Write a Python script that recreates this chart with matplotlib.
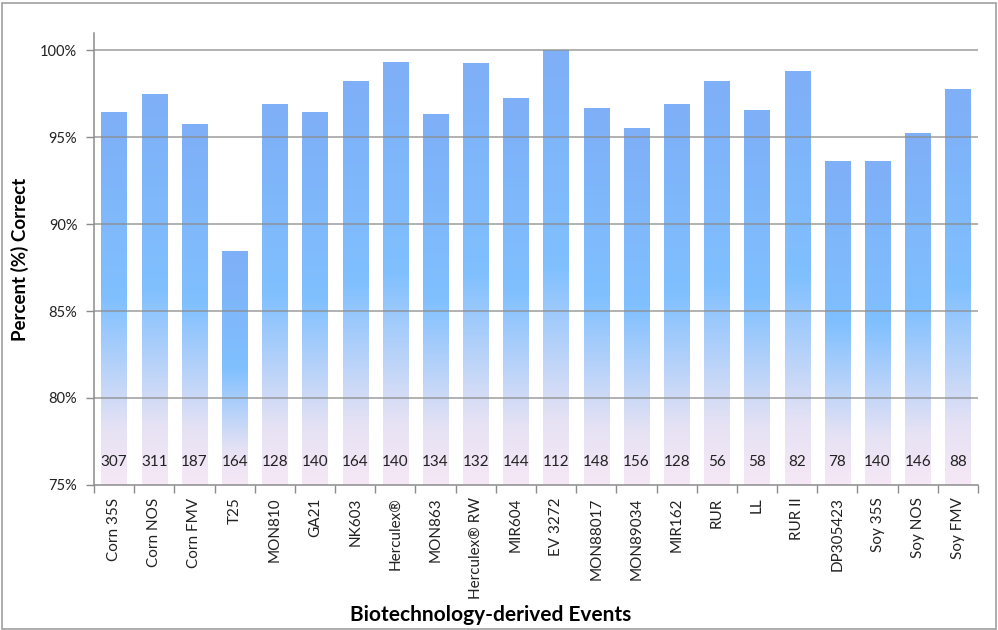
import matplotlib
matplotlib.use("Agg")
import matplotlib.pyplot as plt
import numpy as np
from matplotlib.colors import LinearSegmentedColormap
from matplotlib.patches import Rectangle

plt.rcParams["font.family"] = ["Lato", "DejaVu Sans"]

events = [
    "Corn 35S", "Corn NOS", "Corn FMV", "T25", "MON810", "GA21", "NK603",
    "Herculex\u00ae", "MON863", "Herculex\u00ae RW", "MIR604", "EV 3272",
    "MON88017", "MON89034", "MIR162", "RUR", "LL", "RUR II", "DP305423",
    "Soy 35S", "Soy NOS", "Soy FMV",
]
percent_correct = [
    96.42, 97.43, 95.72, 88.41, 96.88, 96.43, 98.17, 99.29, 96.27, 99.24,
    97.22, 100.0, 96.62, 95.51, 96.88, 98.21, 96.55, 98.78, 93.59, 93.57,
    95.21, 97.73,
]
sample_counts = [
    307, 311, 187, 164, 128, 140, 164, 140, 134, 132, 144, 112, 148, 156,
    128, 56, 58, 82, 78, 140, 146, 88,
]
y_ticks = [75, 80, 85, 90, 95, 100]

BAR_WIDTH = 0.63
Y_MIN = 75
Y_TOP = 100.98
GRID_COLOR = "#8c8c8c"

# bottom -> middle -> top of each bar, like the spreadsheet gradient fill
bar_cmap = LinearSegmentedColormap.from_list(
    "bar_fill", [(0.0, "#f6e8f6"), (0.15, "#e6e2f4"), (0.5, "#80c0ff"),
                 (1.0, "#7eaff7")]
)
gradient = np.linspace(0, 1, 256).reshape(-1, 1)

fig = plt.figure(figsize=(9.98, 6.30), dpi=100)
fig.patches.append(
    Rectangle((0.002, 0.002), 0.996, 0.994, transform=fig.transFigure,
              fill=False, edgecolor="#a0a0a0", linewidth=1.2)
)
ax = fig.add_axes([0.0942, 0.2302, 0.8858, 0.7174])

x = np.arange(len(events))
for xi, value, n in zip(x, percent_correct, sample_counts):
    left = xi - BAR_WIDTH / 2
    ax.imshow(gradient, cmap=bar_cmap, origin="lower", aspect="auto",
              extent=(left, left + BAR_WIDTH, Y_MIN, value), zorder=2)
    ax.text(xi, 76.3, str(n), ha="center", va="center", fontsize=11,
            color="#222222", zorder=4)

for yv in y_ticks[1:]:
    ax.axhline(yv, color=GRID_COLOR, linewidth=1.1, zorder=2.5, alpha=0.85)

ax.set_xlim(-0.5, len(events) - 0.5)
ax.set_ylim(Y_MIN, Y_TOP)

ax.set_yticks(y_ticks)
ax.set_yticklabels([f"{v}%" for v in y_ticks], fontsize=10.5, color="#222222")
ax.set_xticks(x)
ax.set_xticklabels(events, rotation=90, fontsize=11, color="#222222")
ax.tick_params(axis="x", length=0, pad=9)
ax.tick_params(axis="y", length=6, color=GRID_COLOR, width=1, pad=6)

# category boundary ticks like Excel
ax.set_xticks(np.arange(-0.5, len(events)), minor=True)
ax.tick_params(axis="x", which="minor", length=6, color=GRID_COLOR, width=1)

for side in ("top", "right"):
    ax.spines[side].set_visible(False)
for side in ("left", "bottom"):
    ax.spines[side].set_color(GRID_COLOR)
    ax.spines[side].set_linewidth(1.1)

ax.set_ylabel("Percent (%) Correct", fontsize=13.5, fontweight="bold",
              labelpad=8)
fig.text(0.492, 0.008, "Biotechnology-derived Events", ha="center",
         va="bottom", fontsize=15, fontweight="bold")

fig.savefig("out.png", dpi=100)
